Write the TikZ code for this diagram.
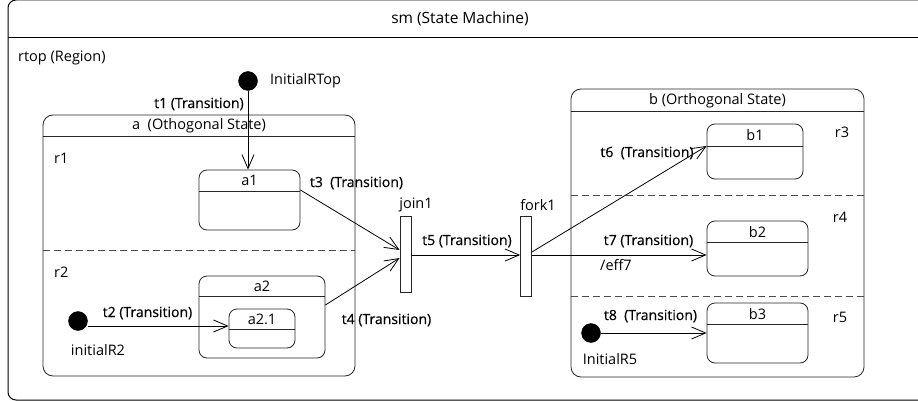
\documentclass[tikz,border=0pt]{standalone}
\usepackage{fontspec}
\setmainfont{Open Sans}
\newfontfamily\trfont{Open Sans}[FakeBold=0.5]
\usetikzlibrary{arrows.meta}

\begin{document}
\begin{tikzpicture}[x=1pt,y=-1pt,
  state/.style={draw=black!85,rounded corners=8pt,line width=0.8pt,inner sep=0pt},
  region/.style={draw=black!70,dash pattern=on 7pt off 4pt,line width=0.8pt},
  initial/.style={draw,circle,fill=black,minimum size=19pt,inner sep=0pt},
  bar/.style={draw=black!85,fill=white,line width=0.8pt,minimum width=11pt,inner sep=0pt},
  lbl/.style={inner sep=0pt,text=black,font=\fontsize{14.5}{17}\selectfont},
  trans/.style={inner sep=0pt,font=\fontsize{14}{17}\selectfont\trfont},
  arr/.style={line width=0.8pt,-{Straight Barb[length=14pt,width=12pt]}}]
\useasboundingbox (0,0) rectangle (918,401);
\clip (0,0) rectangle (918,401);

% outer frame (runs on past the right edge) and its title bar
\draw[line width=1pt,rounded corners=8pt] (940,0) -- (8,0) -- (8,400) -- (940,400);
\draw[line width=1pt] (8,38) -- (918,38);
\node[lbl,font=\fontsize{15.5}{18}\selectfont] (sm) at (460,19) {sm (State Machine)};
\node[lbl,anchor=west] (rtop) at (18,58) {rtop (Region)};

% orthogonal state a
\node[state,rounded corners=10pt,minimum width=312pt,minimum height=261pt] (a) at (199,245.5) {};
\draw[black!85,line width=0.8pt] ([yshift=-22pt]a.north west) -- ([yshift=-22pt]a.north east);
\node[lbl] (a-name) at ([yshift=-11pt]a.north) {a\ \ (Othogonal State)};
\draw[region] (a.west |- 0,250) -- (a.east |- 0,250);
\node[lbl,anchor=west] (r1) at (54,158) {r1};
\node[lbl,anchor=west] (r2) at (54,272) {r2};

% orthogonal state b
\node[state,rounded corners=10pt,minimum width=293pt,minimum height=288pt] (b) at (717.5,233) {};
\draw[black!85,line width=0.8pt] ([yshift=-23pt]b.north west) -- ([yshift=-23pt]b.north east);
\node[lbl] (b-name) at ([yshift=-12pt]b.north) {b (Orthogonal State)};
\foreach \y in {195,296} {
  \draw[region] (b.west |- 0,\y) -- (b.east |- 0,\y);
}
\node[lbl] (r3) at (842,132) {r3};
\node[lbl] (r4) at (840,217) {r4};
\node[lbl] (r5) at (840,317) {r5};

% simple states
\foreach \n/\t/\x/\y/\w/\h/\hd in {a1/a1/249.5/200/101/60/22,a2/a2/262/317/126/82/21,a21/a2.1/262/328.5/66/39/21,b1/b1/755/151.5/96/55/23,b2/b2/757.5/248.5/101/55/22,b3/b3/757.5/333/101/60/22} {
  \node[state,minimum width=\w pt,minimum height=\h pt] (\n) at (\x,\y) {};
  \draw[black!85,line width=0.8pt] ([yshift=-\hd pt]\n.north west) -- ([yshift=-\hd pt]\n.north east);
  \node[lbl] (\n-name) at ([yshift=-\hd/2 pt]\n.north) {\t};
}

% pseudo states
\node[initial] (init-top) at (248,81) {};
\node[initial] (init-r2) at (78,321) {};
\node[initial] (init-r5) at (591,333) {};
\node[lbl,anchor=west] (init-top-lbl) at (270,81) {InitialRTop};
\node[lbl] (init-r2-lbl) at (98,350) {initialR2};
\node[lbl] (init-r5-lbl) at (610,359) {InitialR5};
\node[bar,minimum height=76pt] (join1) at (405.5,254) {};
\node[bar,minimum height=80pt] (fork1) at (526,256) {};
\node[lbl] (join1-lbl) at (416,205) {join1};
\node[lbl] (fork1-lbl) at (538,205) {fork1};

% transitions
\draw[arr] (init-top) -- (init-top |- a1.north);
\draw[arr] ([yshift=-5pt]init-r2.east) -- ([yshift=2.5pt]a21.west);
\draw[arr] ([yshift=10pt]a1.east) -- ([yshift=4pt]join1.west);
\draw[arr] ([yshift=12pt]a2.east) -- ([yshift=-4pt]join1.west);
\draw[arr] ([yshift=-1pt]join1.east) -- ([yshift=1pt]fork1.west);
\draw[arr] ([yshift=4pt]fork1.east) -- ([yshift=5.5pt]b1.west);
\draw[arr] ([yshift=1pt]fork1.east) -- ([yshift=-6.5pt]b2.west);
\draw[arr] (init-r5) -- (b3);

\node[trans] (t1) at (199,104) {t1 (Transition)};
\node[trans] (t2) at (147.5,313) {t2 (Transition)};
\node[trans] (t3) at (356.5,183) {t3\ \ (Transition)};
\node[trans] (t4) at (386.5,320) {t4 (Transition)};
\node[trans] (t5) at (467,241) {t5 (Transition)};
\node[trans] (t6) at (647,153) {t6\ \ (Transition)};
\node[trans] (t7) at (648.5,241) {t7 (Transition)};
\node[lbl,anchor=west] (eff7) at (600,265) {/eff7};
\node[trans] (t8) at (650.5,316) {t8\ \ (Transition)};
\end{tikzpicture}
\end{document}
